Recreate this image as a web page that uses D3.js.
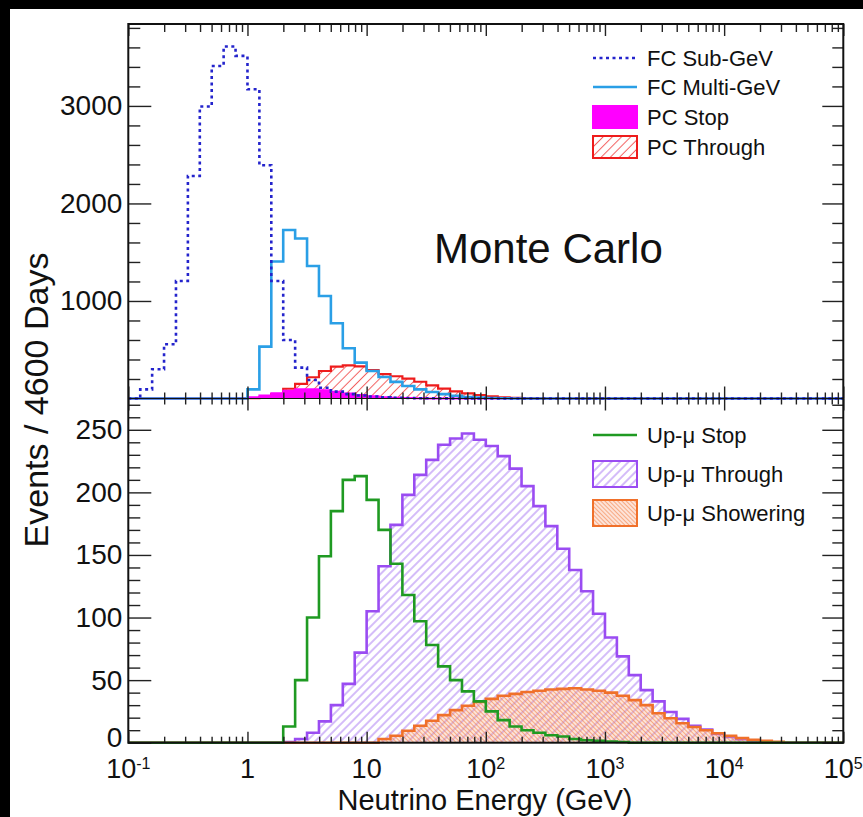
<!DOCTYPE html>
<html>
<head>
<meta charset="utf-8">
<script src="https://cdn.jsdelivr.net/npm/d3@7/dist/d3.min.js"></script>
<style>
	body { margin: 0; background: #000; }
	svg { display: block; }
	text { font-family: "Liberation Sans", Arial, Helvetica, sans-serif; fill: #111; }
</style>
</head>
<body>
<div id="chart-area"></div>
<script>
// Energy binning: 10 log bins per decade, 0.1 GeV to 100 TeV
const E_MIN = 0.1
const E_MAX = 1e5
const BINS_PER_DECADE = 10
const N_BINS = 60

// Upper panel (contained events), events per bin
const fcSubGeV = [0, 94, 300, 556, 1205, 2282, 2994, 3410, 3609, 3513,
	3171, 2392, 1205, 600, 317, 190, 110, 70, 45, 30,
	20, 12, 8, 5, 3, 2, 1, 0, 0, 0,
	0, 0, 0, 0, 0, 0, 0, 0, 0, 0,
	0, 0, 0, 0, 0, 0, 0, 0, 0, 0,
	0, 0, 0, 0, 0, 0, 0, 0, 0, 0]
const fcMultiGeV = [0, 0, 0, 0, 0, 0, 0, 0, 0, 0,
	94, 532, 1404, 1728, 1640, 1359, 1051, 771, 515, 368,
	282, 220, 170, 128, 94, 67, 45, 28, 16, 9,
	5, 2, 0, 0, 0, 0, 0, 0, 0, 0,
	0, 0, 0, 0, 0, 0, 0, 0, 0, 0,
	0, 0, 0, 0, 0, 0, 0, 0, 0, 0]
const pcStop = [0, 0, 0, 0, 0, 0, 0, 0, 0, 3,
	12, 30, 55, 80, 95, 95, 85, 68, 50, 35,
	23, 14, 8, 4, 2, 1, 0, 0, 0, 0,
	0, 0, 0, 0, 0, 0, 0, 0, 0, 0,
	0, 0, 0, 0, 0, 0, 0, 0, 0, 0,
	0, 0, 0, 0, 0, 0, 0, 0, 0, 0]
const pcThrough = [0, 0, 0, 0, 0, 0, 0, 0, 0, 0,
	3, 15, 45, 100, 150, 218, 282, 327, 340, 330,
	290, 250, 228, 204, 172, 135, 102, 74, 52, 36,
	23, 13, 7, 3, 1, 0, 0, 0, 0, 0,
	0, 0, 0, 0, 0, 0, 0, 0, 0, 0,
	0, 0, 0, 0, 0, 0, 0, 0, 0, 0]

// Lower panel (upward-going muons), events per bin
const upMuStop = [0, 0, 0, 0, 0, 0, 0, 0, 0, 0,
	0, 0, 0, 13, 50, 100, 149, 185, 210, 213,
	194, 170, 143, 118, 97, 78, 61, 50, 41, 33,
	25, 18, 13, 10, 8, 6, 5, 3, 2, 1.5,
	1, 0.5, 0, 0, 0, 0, 0, 0, 0, 0,
	0, 0, 0, 0, 0, 0, 0, 0, 0, 0]
const upMuThrough = [0, 0, 0, 0, 0, 0, 0, 0, 0, 0,
	0, 0, 0, 0.5, 3, 8, 17, 30, 47, 72,
	105, 141, 174, 198, 214, 226, 238, 243, 247, 242,
	237, 229, 219, 205, 189, 173, 155, 138, 121, 103,
	84, 69, 54, 42, 33, 24.5, 19, 13.5, 10.5, 7,
	4.5, 2.8, 1.5, 0.5, 0, 0, 0, 0, 0, 0]
const upMuShowering = [0, 0, 0, 0, 0, 0, 0, 0, 0, 0,
	0, 0, 0, 0, 0, 0, 0, 0, 0, 0,
	0, 3, 5.5, 9.5, 13.5, 17.5, 22, 26, 29.5, 32.5,
	35, 37.5, 39, 40.5, 41.5, 42.5, 43, 43.5, 42.5, 41.5,
	40, 37.5, 34, 30, 23.5, 19.5, 15.5, 12.5, 10, 7.5,
	5.5, 3.8, 2.3, 1.5, 0.8, 0, 0, 0, 0, 0]

// Axis ticks and labels
const xDecades = [0.1, 1, 10, 100, 1000, 10000, 100000]
const xTickLabels = [["10", "-1"], ["1", ""], ["10", ""], ["10", "2"], ["10", "3"], ["10", "4"], ["10", "5"]]
const upperTicks = [1000, 2000, 3000]
const lowerTicks = [0, 50, 100, 150, 200, 250]

const WIDTH = 863
const HEIGHT = 817
const LEFT = 128.3, RIGHT = 843.3, TOP = 24, MID = 398.5, BOTTOM = 742.7

const svg = d3.select("#chart-area").append("svg")
	.attr("width", WIDTH)
	.attr("height", HEIGHT)

svg.append("rect")
	.attr("x", 10).attr("y", 9)
	.attr("width", WIDTH - 10).attr("height", HEIGHT - 9)
	.attr("fill", "#fff")

const x = d3.scaleLog().domain([E_MIN, E_MAX]).range([LEFT, RIGHT])
const yUp = d3.scaleLinear().domain([0, 3840]).range([MID, TOP])
const yLo = d3.scaleLinear().domain([0, 275]).range([BOTTOM, MID])

const edges = d3.range(N_BINS + 1).map(i => E_MIN * Math.pow(10, i / BINS_PER_DECADE))

// hatch patterns
const defs = svg.append("defs")
function hatch(id, color, gap, angle, width, opacity, bg) {
	const p = defs.append("pattern")
		.attr("id", id)
		.attr("patternUnits", "userSpaceOnUse")
		.attr("width", gap).attr("height", gap)
		.attr("patternTransform", `rotate(${angle})`)
	if (bg) {
		p.append("rect")
			.attr("width", gap).attr("height", gap)
			.attr("fill", bg)
	}
	p.append("line")
		.attr("x1", gap / 2).attr("y1", 0)
		.attr("x2", gap / 2).attr("y2", gap)
		.attr("stroke", color)
		.attr("stroke-width", width)
		.attr("stroke-opacity", opacity)
}
hatch("hatch-red", "#f03a3a", 6.5, 45, 1, 0.8)
hatch("hatch-purple", "#9a62f0", 6, 45, 1, 0.85)
hatch("hatch-orange", "#f27a3c", 3, -45, 1.1, 0.55, "rgba(250,170,140,0.3)")

function stepPath(values, y, close) {
	const p = d3.path()
	p.moveTo(x(edges[0]), y(0))
	values.forEach((v, i) => {
		p.lineTo(x(edges[i]), y(v))
		p.lineTo(x(edges[i + 1]), y(v))
	})
	p.lineTo(x(edges[N_BINS]), y(0))
	if (close) p.closePath()
	return p.toString()
}

function drawHist(values, y, opts) {
	if (opts.fill) {
		svg.append("path")
			.attr("d", stepPath(values, y, true))
			.attr("fill", opts.fill)
			.attr("stroke", "none")
	}
	svg.append("path")
		.attr("d", stepPath(values, y, false))
		.attr("fill", "none")
		.attr("stroke", opts.color)
		.attr("stroke-width", opts.width || 2.5)
		.attr("stroke-dasharray", opts.dash || null)
		.attr("stroke-linejoin", "miter")
}

// Upper panel
drawHist(pcThrough, yUp, { color: "#ee1c1c", fill: "url(#hatch-red)", width: 2.2 })
drawHist(pcStop, yUp, { color: "#ff00ff", fill: "#ff00ff", width: 2 })
drawHist(fcMultiGeV, yUp, { color: "#2a9fe6", width: 2.6 })
drawHist(fcSubGeV, yUp, { color: "#2424cc", width: 2.6, dash: "3,3.5" })

// Lower panel
drawHist(upMuThrough, yLo, { color: "#9a4cf2", fill: "url(#hatch-purple)", width: 2.6 })
drawHist(upMuShowering, yLo, { color: "#f0702a", fill: "url(#hatch-orange)", width: 2.6 })
drawHist(upMuStop, yLo, { color: "#1f9a22", width: 2.6 })

// Ticks
const xMinor = []
xDecades.slice(0, -1).forEach(d => d3.range(2, 10).forEach(m => xMinor.push(d * m)))

function tickGroup(axis, tx, ty) {
	const g = svg.append("g")
		.attr("transform", `translate(${tx}, ${ty})`)
		.call(axis.tickFormat(""))
	g.select(".domain").remove()
	g.selectAll("line").attr("stroke", "#222").attr("stroke-width", 1.4)
	return g
}

// x ticks: frame top, panel boundary (both sides), bottom
tickGroup(d3.axisBottom(x).tickValues(xDecades).tickSize(12), 0, TOP)
tickGroup(d3.axisBottom(x).tickValues(xMinor).tickSize(8), 0, TOP)
tickGroup(d3.axisTop(x).tickValues(xDecades).tickSize(12), 0, MID)
tickGroup(d3.axisTop(x).tickValues(xMinor).tickSize(6), 0, MID)
tickGroup(d3.axisBottom(x).tickValues(xDecades).tickSize(12), 0, MID)
tickGroup(d3.axisBottom(x).tickValues(xMinor).tickSize(6), 0, MID)
tickGroup(d3.axisTop(x).tickValues(xDecades).tickSize(11), 0, BOTTOM)
tickGroup(d3.axisTop(x).tickValues(xMinor).tickSize(6), 0, BOTTOM)

// y ticks, left and right
const upMinor = d3.range(200, 3840, 200).filter(v => v % 1000 !== 0)
const loMinor = d3.range(10, 275, 10).filter(v => v % 50 !== 0)
tickGroup(d3.axisRight(yUp).tickValues(upperTicks).tickSize(23), LEFT, 0)
tickGroup(d3.axisRight(yUp).tickValues(upMinor).tickSize(12), LEFT, 0)
tickGroup(d3.axisLeft(yUp).tickValues(upperTicks).tickSize(21), RIGHT, 0)
tickGroup(d3.axisLeft(yUp).tickValues(upMinor).tickSize(11), RIGHT, 0)
tickGroup(d3.axisRight(yLo).tickValues(lowerTicks).tickSize(23), LEFT, 0)
tickGroup(d3.axisRight(yLo).tickValues(loMinor).tickSize(12), LEFT, 0)
tickGroup(d3.axisLeft(yLo).tickValues(lowerTicks).tickSize(21), RIGHT, 0)
tickGroup(d3.axisLeft(yLo).tickValues(loMinor).tickSize(11), RIGHT, 0)

// Frame
svg.append("rect")
	.attr("x", LEFT).attr("y", TOP)
	.attr("width", RIGHT - LEFT).attr("height", BOTTOM - TOP)
	.attr("fill", "none")
	.attr("stroke", "#111")
	.attr("stroke-width", 2)
svg.append("line")
	.attr("x1", LEFT).attr("x2", RIGHT)
	.attr("y1", MID).attr("y2", MID)
	.attr("stroke", "#111")
	.attr("stroke-width", 1)

// y tick labels (the zero label sits a little higher to clear the x labels)
function yLabels(scale, values) {
	const g = svg.append("g")
		.attr("transform", `translate(${LEFT}, 0)`)
		.call(d3.axisLeft(scale).tickValues(values).tickSize(0).tickPadding(6).tickFormat(d3.format("d")))
	g.select(".domain").remove()
	g.selectAll("text")
		.attr("font-size", "28px")
		.attr("fill", "#1a1a1a")
		.style("font-family", "'Liberation Sans', Arial, sans-serif")
	g.selectAll(".tick").filter(d => d === 0).select("text")
		.attr("transform", "translate(0, -5)")
}
yLabels(yUp, upperTicks)
yLabels(yLo, lowerTicks)

// x tick labels with exponents
const xl = svg.append("g")
xDecades.forEach((d, i) => {
	const t = xl.append("text")
		.attr("x", x(d))
		.attr("y", 778)
		.attr("text-anchor", "middle")
		.attr("font-size", "27px")
	t.append("tspan").text(xTickLabels[i][0])
	if (xTickLabels[i][1]) {
		t.append("tspan")
			.attr("font-size", "16px")
			.attr("dy", -9)
			.text(xTickLabels[i][1])
	}
})

// Axis titles
svg.append("text")
	.attr("x", 485)
	.attr("y", 810)
	.attr("text-anchor", "middle")
	.attr("font-size", "29px")
	.text("Neutrino Energy (GeV)")

svg.append("text")
	.attr("transform", "rotate(-90)")
	.attr("x", -400)
	.attr("y", 48)
	.attr("text-anchor", "middle")
	.attr("font-size", "34px")
	.text("Events / 4600 Days")

svg.append("text")
	.attr("x", 434)
	.attr("y", 263)
	.attr("font-size", "42px")
	.text("Monte Carlo")

// Legends
const LX0 = 593, LX1 = 637, TX = 647
function legendLine(y, color, dash, label) {
	svg.append("line")
		.attr("x1", LX0).attr("x2", LX1)
		.attr("y1", y).attr("y2", y)
		.attr("stroke", color)
		.attr("stroke-width", 2.6)
		.attr("stroke-dasharray", dash || null)
	legendText(y, label)
}
function legendBox(y0, y1, color, fill, label) {
	svg.append("rect")
		.attr("x", LX0).attr("y", y0)
		.attr("width", LX1 - LX0).attr("height", y1 - y0)
		.attr("fill", fill)
		.attr("stroke", color)
		.attr("stroke-width", 2)
	legendText((y0 + y1) / 2, label)
}
function legendText(y, label) {
	svg.append("text")
		.attr("x", TX)
		.attr("y", y + 8)
		.attr("font-size", "22px")
		.text(label)
}

legendLine(58, "#2424cc", "3,3.5", "FC Sub-GeV")
legendLine(87, "#2a9fe6", null, "FC Multi-GeV")
legendBox(106, 128, "#ff00ff", "#ff00ff", "PC Stop")
legendBox(136, 158, "#ee1c1c", "url(#hatch-red)", "PC Through")

legendLine(435, "#1f9a22", null, "Up-μ Stop")
legendBox(461, 487, "#9a4cf2", "url(#hatch-purple)", "Up-μ Through")
legendBox(500, 526, "#f0702a", "url(#hatch-orange)", "Up-μ Showering")
</script>
</body>
</html>
